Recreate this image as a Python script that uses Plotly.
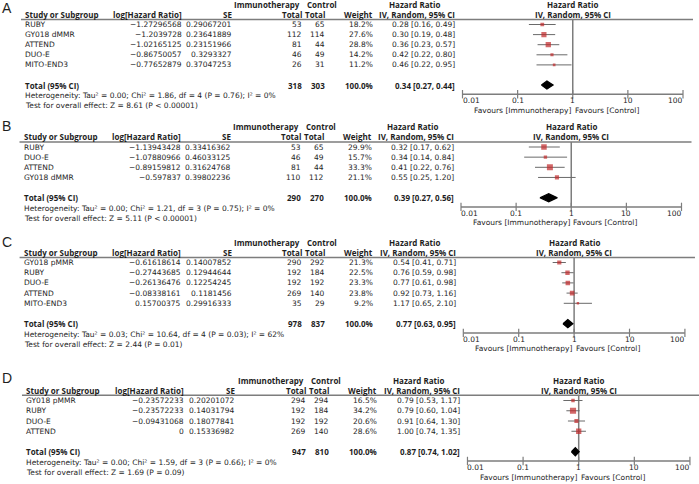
import math
import plotly.graph_objects as go

W, H = 699, 484

# ---------------- data ----------------
studies_A = ["RUBY", "GY018 dMMR", "ATTEND", "DUO-E", "MITO-END3"]
loghr_A = ["-1.27296568", "-1.2039728", "-1.02165125", "-0.86750057", "-0.77652879"]
se_A = ["0.29067201", "0.23641889", "0.23151966", "0.3293327", "0.37047253"]
imm_A = [53, 112, 81, 46, 26]
ctrl_A = [65, 114, 44, 49, 31]
weight_A = [18.2, 27.6, 28.8, 14.2, 11.2]
hr_A = [0.28, 0.30, 0.36, 0.42, 0.46]
lo_A = [0.16, 0.19, 0.23, 0.22, 0.22]
hi_A = [0.49, 0.48, 0.57, 0.80, 0.95]
tot_n_A = [318, 303]
tot_hr_A = [0.34, 0.27, 0.44]
het_A = "Heterogeneity: Tau² = 0.00; Chi² = 1.86, df = 4 (P = 0.76); I² = 0%"
test_A = "Test for overall effect: Z = 8.61 (P < 0.00001)"

studies_B = ["RUBY", "DUO-E", "ATTEND", "GY018 dMMR"]
loghr_B = ["-1.13943428", "-1.07880966", "-0.89159812", "-0.597837"]
se_B = ["0.33416362", "0.46033125", "0.31624768", "0.39802236"]
imm_B = [53, 46, 81, 110]
ctrl_B = [65, 49, 44, 112]
weight_B = [29.9, 15.7, 33.3, 21.1]
hr_B = [0.32, 0.34, 0.41, 0.55]
lo_B = [0.17, 0.14, 0.22, 0.25]
hi_B = [0.62, 0.84, 0.76, 1.20]
tot_n_B = [290, 270]
tot_hr_B = [0.39, 0.27, 0.56]
het_B = "Heterogeneity: Tau² = 0.00; Chi² = 1.21, df = 3 (P = 0.75); I² = 0%"
test_B = "Test for overall effect: Z = 5.11 (P < 0.00001)"

studies_C = ["GY018 pMMR", "RUBY", "DUO-E", "ATTEND", "MITO-END3"]
loghr_C = ["-0.61618614", "-0.27443685", "-0.26136476", "-0.08338161", "0.15700375"]
se_C = ["0.14007852", "0.12944644", "0.12254245", "0.1181456", "0.29916333"]
imm_C = [290, 192, 192, 269, 35]
ctrl_C = [292, 184, 192, 140, 29]
weight_C = [21.3, 22.5, 23.3, 23.8, 9.2]
hr_C = [0.54, 0.76, 0.77, 0.92, 1.17]
lo_C = [0.41, 0.59, 0.61, 0.73, 0.65]
hi_C = [0.71, 0.98, 0.98, 1.16, 2.10]
tot_n_C = [978, 837]
tot_hr_C = [0.77, 0.63, 0.95]
het_C = "Heterogeneity: Tau² = 0.03; Chi² = 10.64, df = 4 (P = 0.03); I² = 62%"
test_C = "Test for overall effect: Z = 2.44 (P = 0.01)"

studies_D = ["GY018 pMMR", "RUBY", "DUO-E", "ATTEND"]
loghr_D = ["-0.23572233", "-0.23572233", "-0.09431068", "0"]
se_D = ["0.20201072", "0.14031794", "0.18077841", "0.15336982"]
imm_D = [294, 192, 192, 269]
ctrl_D = [294, 184, 192, 140]
weight_D = [16.5, 34.2, 20.6, 28.6]
hr_D = [0.79, 0.79, 0.91, 1.00]
lo_D = [0.53, 0.60, 0.64, 0.74]
hi_D = [1.17, 1.04, 1.30, 1.35]
tot_n_D = [947, 810]
tot_hr_D = [0.87, 0.74, 1.02]
het_D = "Heterogeneity: Tau² = 0.00; Chi² = 1.59, df = 3 (P = 0.66); I² = 0%"
test_D = "Test for overall effect: Z = 1.69 (P = 0.09)"

tick_vals = [0.01, 0.1, 1, 10, 100]
tick_text = ["0.01", "0.1", "1", "10", "100"]
favours = ["Favours [Immunotherapy]", "Favours [Control]"]

# ---------------- layout / style ----------------
FONT = "DejaVu Sans"       # regular text
FS = 7.5
BFONT = "Open Sans"        # bold text
BFS = 8
LETTER_FONT = "Liberation Sans"
TXT = "#1e1e1e"
RED = "#c0282a"
GRAY = "#7d7d7d"
DARK = "#6a6a6a"

# base x positions (pixels, panel A)
X_STUDY, X_LOG, X_SE, X_IMM, X_CTRL = 25, 182, 232, 302, 325
X_WEIGHT, X_HRT, X_HRHDR = 373, 455, 414
PLOT_L, PLOT_R = 462.5, 683
SEP_L, SEP_R = 21, 693

panels = [
    dict(letter="A", studies=studies_A, loghr=loghr_A, se=se_A, imm=imm_A, ctrl=ctrl_A,
         w=weight_A, hr=hr_A, lo=lo_A, hi=hi_A, tn=tot_n_A, th=tot_hr_A, het=het_A, test=test_A,
         p0=24.5, s=10.1, ax=0.0, kx=1.0, ly=8.0),
    dict(letter="B", studies=studies_B, loghr=loghr_B, se=se_B, imm=imm_B, ctrl=ctrl_B,
         w=weight_B, hr=hr_B, lo=lo_B, hi=hi_B, tn=tot_n_B, th=tot_hr_B, het=het_B, test=test_B,
         p0=147, s=10.15, ax=-1.5, kx=1.0, ly=126),
    dict(letter="C", studies=studies_C, loghr=loghr_C, se=se_C, imm=imm_C, ctrl=ctrl_C,
         w=weight_C, hr=hr_C, lo=lo_C, hi=hi_C, tn=tot_n_C, th=tot_hr_C, het=het_C, test=test_C,
         p0=262.5, s=10.2, ax=-1.5, kx=1.005, ly=242),
    dict(letter="D", studies=studies_D, loghr=loghr_D, se=se_D, imm=imm_D, ctrl=ctrl_D,
         w=weight_D, hr=hr_D, lo=lo_D, hi=hi_D, tn=tot_n_D, th=tot_hr_D, het=het_D, test=test_D,
         p0=400.5, s=10.25, ax=0.8, kx=1.009, ly=378),
]

fig = go.Figure()
annotations = []
shapes = []


def ann(text, x, y, xref, yref, xanchor="left", bold=False, size=None, color=TXT,
        yanchor="middle", family=None):
    if family is None:
        family = BFONT if bold else FONT
    if size is None:
        size = BFS if bold else FS
    annotations.append(dict(
        text=f"<b>{text}</b>" if bold else text, x=x, y=y, xref=xref, yref=yref,
        xanchor=xanchor, yanchor=yanchor, showarrow=False, borderpad=0, borderwidth=0,
        font=dict(family=family, size=size, color=color)))


def fmt_hr(h, l, u):
    return f"{h:.2f} [{l:.2f}, {u:.2f}]"


for k, P in enumerate(panels, start=1):
    xa = "x" if k == 1 else f"x{k}"
    ya = "y" if k == 1 else f"y{k}"
    px = lambda v, P=P: (P["ax"] + P["kx"] * v) / W  # paper x
    n = len(P["studies"])
    tot_row = n + 1
    r_ax = tot_row + 0.9          # row of the HR axis line
    s, p0 = P["s"], P["p0"]
    r_top = -2.4
    r_bot = tot_row + 2.75
    top_px = p0 + r_top * s
    bot_px = p0 + r_bot * s
    ydom = [max(0.0, 1 - bot_px / H), min(1.0, 1 - top_px / H)]
    xdom = [px(PLOT_L), min(1.0, px(PLOT_R))]

    fig.update_layout(**{
        ("xaxis" if k == 1 else f"xaxis{k}"): dict(
            type="log", range=[-2, 2], domain=xdom, anchor=ya, visible=False, fixedrange=True),
        ("yaxis" if k == 1 else f"yaxis{k}"): dict(
            range=[r_bot, r_top], domain=ydom, anchor=xa, visible=False, fixedrange=True),
    })

    rows = list(range(n))
    # HR axis line + tick marks
    fig.add_trace(go.Scatter(x=[tick_vals[0], tick_vals[-1]], y=[r_ax, r_ax], mode="lines",
                             xaxis=xa, yaxis=ya, line=dict(color=GRAY, width=1.5),
                             hoverinfo="skip", showlegend=False, cliponaxis=False))
    fig.add_trace(go.Scatter(x=tick_vals, y=[r_ax] * len(tick_vals), mode="markers",
                             xaxis=xa, yaxis=ya, cliponaxis=False,
                             marker=dict(symbol="line-ns", size=6, line=dict(color=GRAY, width=1.2)),
                             hoverinfo="skip", showlegend=False))
    # line of no effect
    fig.add_trace(go.Scatter(x=[1, 1], y=[-0.5, r_ax], mode="lines", xaxis=xa, yaxis=ya,
                             line=dict(color=GRAY, width=1.5), hoverinfo="skip", showlegend=False))
    # CI lines
    cx, cy = [], []
    for i in rows:
        cx += [P["lo"][i], P["hi"][i], None]
        cy += [i, i, None]
    fig.add_trace(go.Scatter(x=cx, y=cy, mode="lines", xaxis=xa, yaxis=ya,
                             line=dict(color=DARK, width=1), hoverinfo="skip", showlegend=False))
    # point estimates (box size grows with study weight)
    fig.add_trace(go.Scatter(x=P["hr"], y=rows, mode="markers", xaxis=xa, yaxis=ya,
                             marker=dict(symbol="square", color=RED,
                                         size=[1.0 + 0.15 * w for w in P["w"]], line=dict(width=0)),
                             hoverinfo="skip", showlegend=False))
    # pooled diamond
    est, l, u = P["th"]
    fig.add_trace(go.Scatter(x=[l, est, u, est, l], y=[tot_row, tot_row - 0.4, tot_row, tot_row + 0.4, tot_row],
                             mode="lines", fill="toself", fillcolor="black", xaxis=xa, yaxis=ya,
                             line=dict(color="black", width=1.2), hoverinfo="skip", showlegend=False))

    # separator line
    shapes.append(dict(type="line", xref="paper", yref=ya, x0=px(SEP_L), x1=min(1.0, px(SEP_R)), y0=-0.5, y1=-0.5,
                       line=dict(color=GRAY, width=1.5)))

    # panel letter
    ann(P["letter"], 2 / W, 1 - P["ly"] / H, "paper", "paper", size=14, family=LETTER_FONT)

    # headers
    ann("Immunotherapy", px(X_IMM - 2), -2, "paper", ya, "right", bold=True)
    ann("Control", px(X_IMM + 5), -2, "paper", ya, "left", bold=True)
    ann("Hazard Ratio", px(X_HRHDR), -2, "paper", ya, "center", bold=True)
    ann("Study or Subgroup", px(X_STUDY), -1, "paper", ya, "left", bold=True)
    ann("log[Hazard Ratio]", px(X_LOG), -1, "paper", ya, "right", bold=True)
    ann("SE", px(X_SE), -1, "paper", ya, "right", bold=True)
    ann("Total", px(X_IMM), -1, "paper", ya, "right", bold=True)
    ann("Total", px(X_CTRL), -1, "paper", ya, "right", bold=True)
    ann("Weight", px(X_WEIGHT), -1, "paper", ya, "right", bold=True)
    ann("IV, Random, 95% CI", px(X_HRT), -1, "paper", ya, "right", bold=True)
    ann("Hazard Ratio", 0, -2, xa, ya, "center", bold=True)
    ann("IV, Random, 95% CI", 0, -1, xa, ya, "center", bold=True)

    # study rows
    for i in rows:
        ann(P["studies"][i], px(X_STUDY), i, "paper", ya, "left")
        ann(P["loghr"][i].replace("-", "\u2212"), px(X_LOG), i, "paper", ya, "right")
        ann(P["se"][i], px(X_SE), i, "paper", ya, "right")
        ann(str(P["imm"][i]), px(X_IMM), i, "paper", ya, "right")
        ann(str(P["ctrl"][i]), px(X_CTRL), i, "paper", ya, "right")
        ann(f"{P['w'][i]:.1f}%", px(X_WEIGHT), i, "paper", ya, "right")
        ann(fmt_hr(P["hr"][i], P["lo"][i], P["hi"][i]), px(X_HRT), i, "paper", ya, "right")

    # total rows
    ann("Total (95% CI)", px(X_STUDY), tot_row, "paper", ya, "left", bold=True)
    ann(str(P["tn"][0]), px(X_IMM), tot_row, "paper", ya, "right", bold=True)
    ann(str(P["tn"][1]), px(X_CTRL), tot_row, "paper", ya, "right", bold=True)
    ann("100.0%", px(X_WEIGHT), tot_row, "paper", ya, "right", bold=True)
    ann(fmt_hr(*P["th"]), px(X_HRT), tot_row, "paper", ya, "right", bold=True)
    ann(P["het"], px(X_STUDY), tot_row + 1.05, "paper", ya, "left")
    ann(P["test"], px(X_STUDY), tot_row + 2.05, "paper", ya, "left")

    # tick labels (log axis: annotation x in log10 units)
    for j, (tv, tt) in enumerate(zip(tick_vals, tick_text)):
        anc = "left" if j == 0 else ("right" if j == len(tick_vals) - 1 else "center")
        ann(tt, math.log10(tv), r_ax + 0.64, xa, ya, anc)
    # favours labels
    ann(favours[0], math.log10(0.93), r_ax + 1.57, xa, ya, "right")
    ann(favours[1], math.log10(1.08), r_ax + 1.57, xa, ya, "left")

fig.update_layout(
    width=W, height=H, autosize=False,
    margin=dict(l=0, r=0, t=0, b=0, pad=0),
    paper_bgcolor="white", plot_bgcolor="white",
    annotations=annotations, shapes=shapes, showlegend=False,
    font=dict(family=FONT, size=FS, color=TXT),
)

fig.write_html("out.html", config={"displayModeBar": False},
               post_script="document.body.style.margin='0';document.body.style.overflow='hidden';")
